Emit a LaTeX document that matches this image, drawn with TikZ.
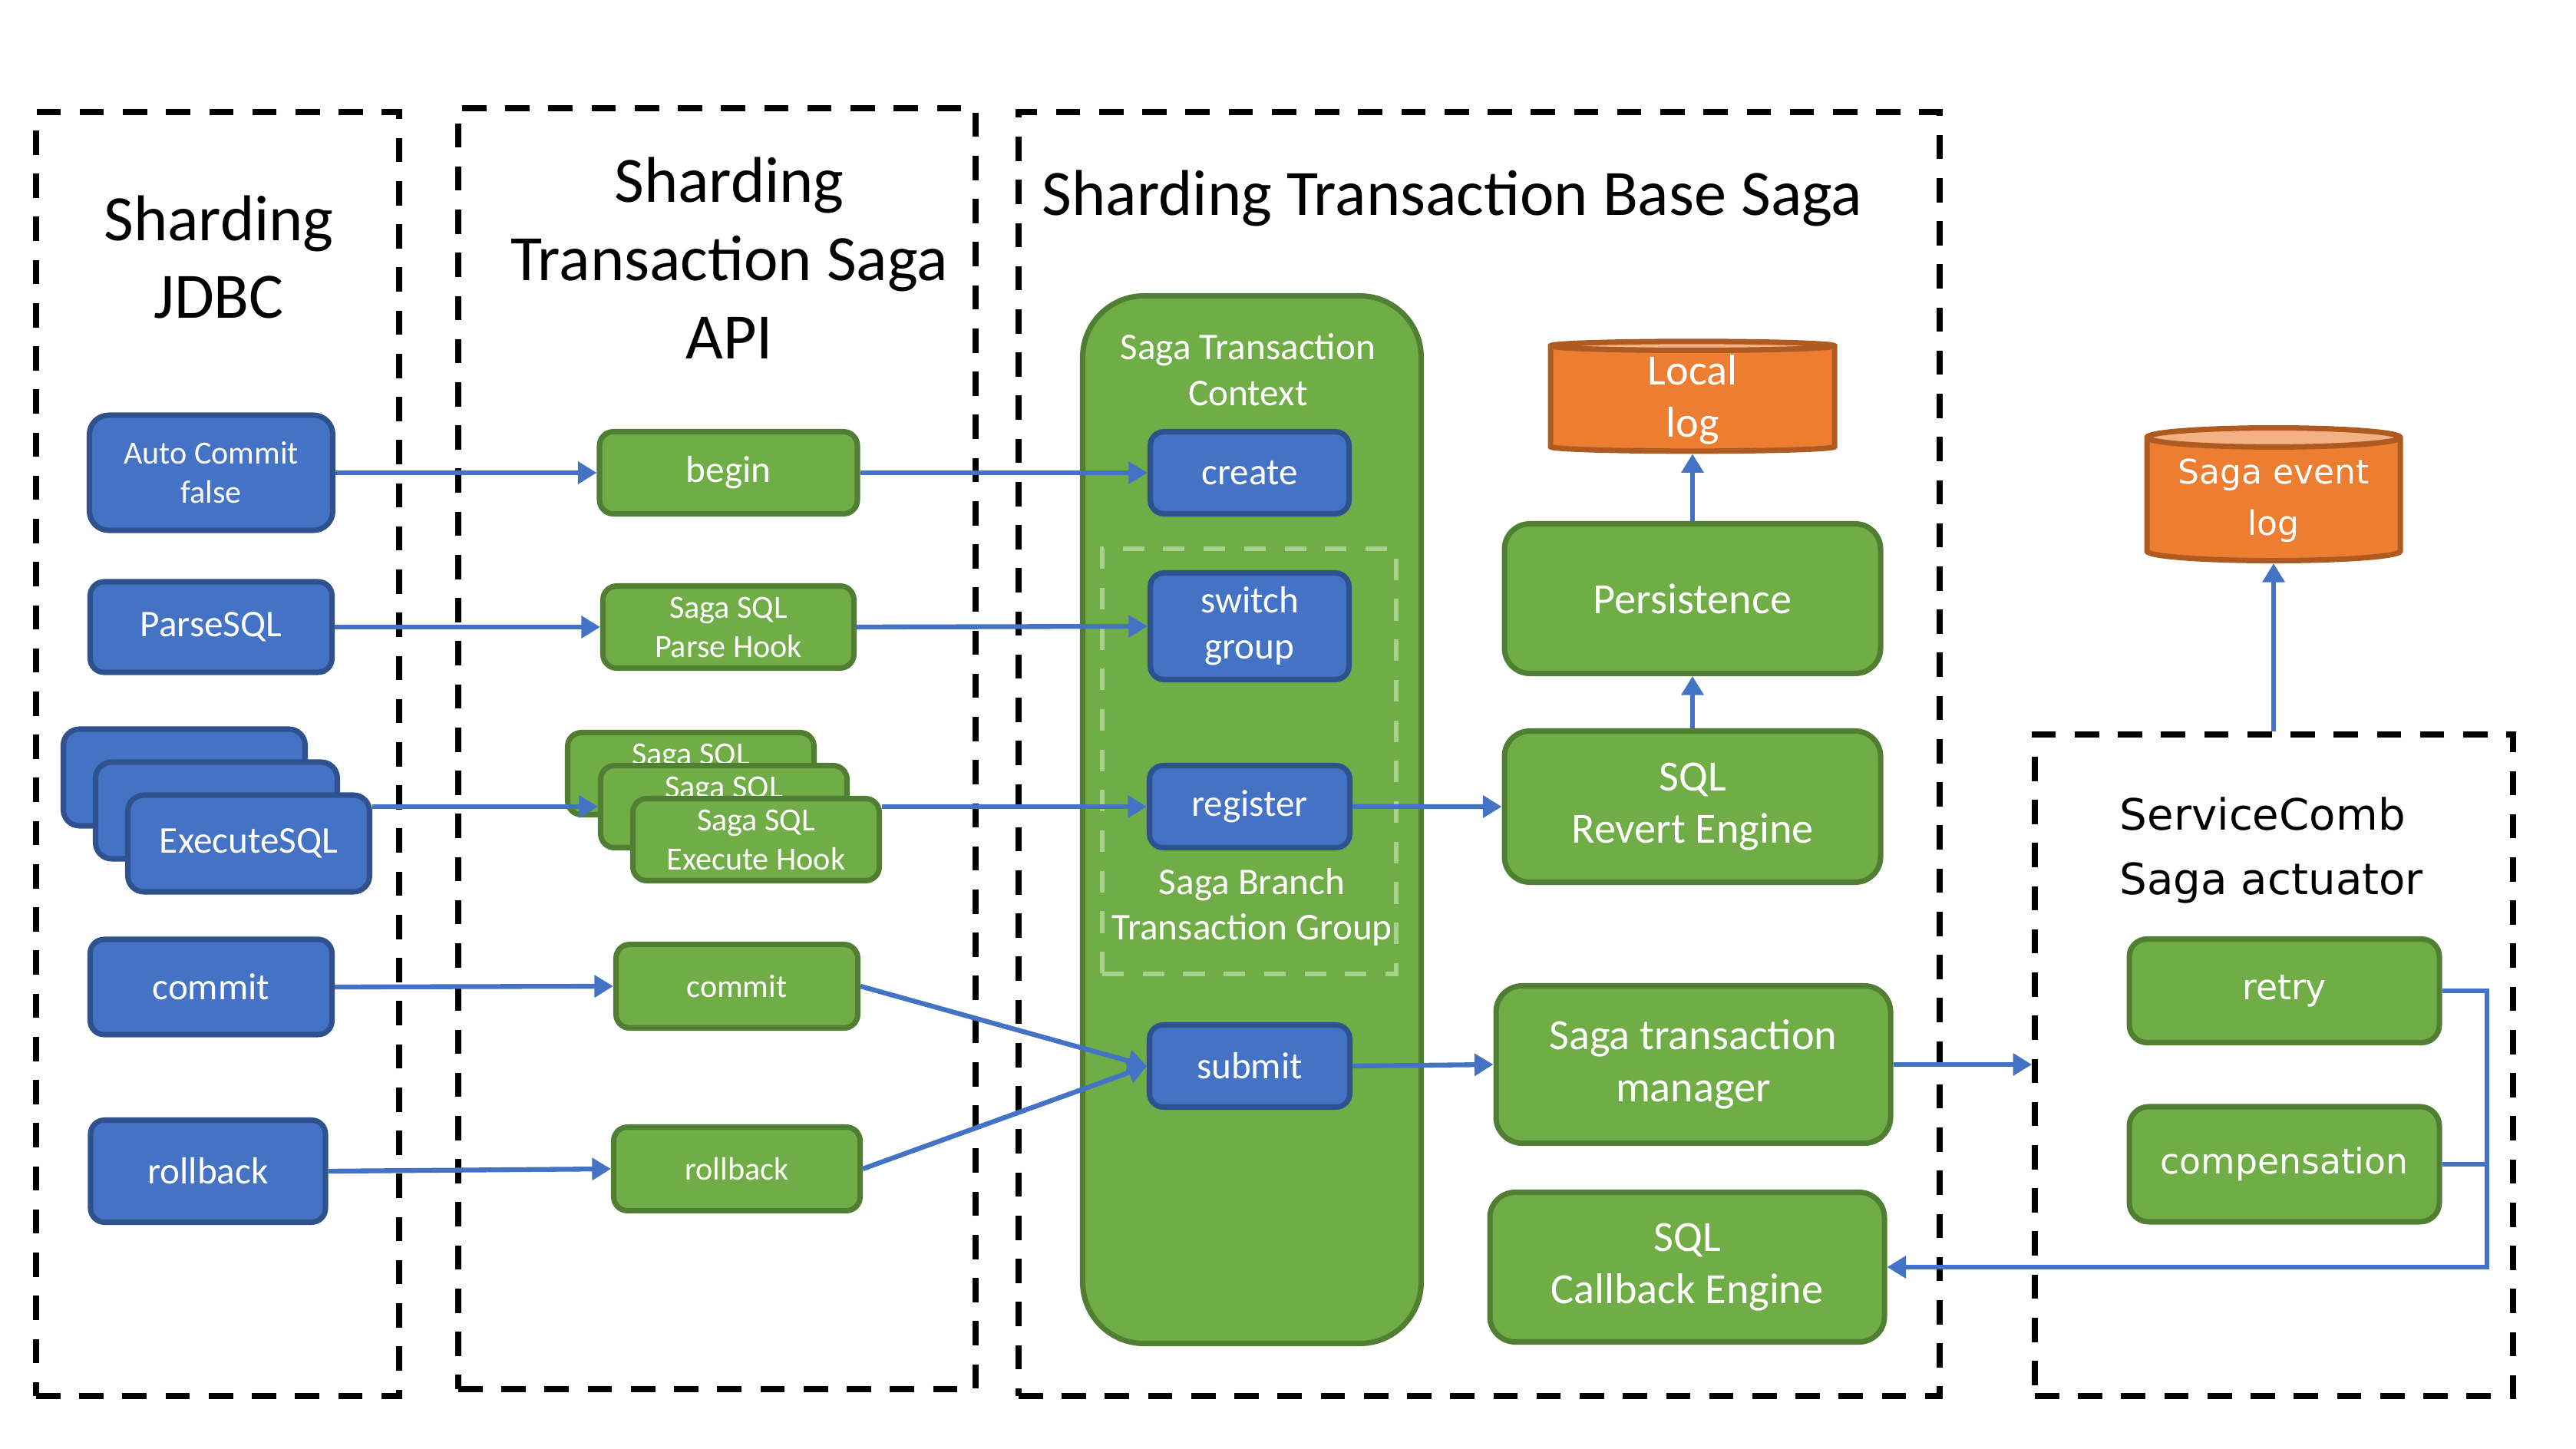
\documentclass[tikz,border=0pt]{standalone}
\usepackage{fontspec}
\setmainfont{Carlito}
\newfontfamily\widefont{DejaVu Sans}
\usepackage{tikz}
\usetikzlibrary{positioning,arrows.meta,shapes.geometric,fit,calc}
\definecolor{nodeblue}{HTML}{4472C4}
\definecolor{blueedge}{HTML}{2F528F}
\definecolor{nodegreen}{HTML}{70AD47}
\definecolor{greenedge}{HTML}{507E32}
\definecolor{logorange}{HTML}{ED7D31}
\definecolor{logtop}{HTML}{F4B183}
\definecolor{logedge}{HTML}{AE5A21}
\definecolor{grouplight}{HTML}{A9D18E}
\newcommand{\sagatitle}{\fontsize{24}{29}\selectfont}
\newcommand{\sagamid}{\fontsize{16}{19.5}\selectfont}
\newcommand{\saganorm}{\fontsize{14}{17}\selectfont}
\newcommand{\sagasmall}{\fontsize{12}{14.5}\selectfont}
\tikzstyle{frame}    = [draw=black, line width=2.2pt, dash pattern=on 9pt off 7pt, inner sep=0pt]
\tikzstyle{heading}  = [align=center, inner sep=0pt, font=\sagatitle]
\tikzstyle{bluebox}  = [rectangle, rounded corners=0.18cm, draw=blueedge, fill=nodeblue,
                        line width=2pt, text=white, align=center, inner sep=1pt, font=\saganorm]
\tikzstyle{greenbox} = [rectangle, rounded corners=0.18cm, draw=greenedge, fill=nodegreen,
                        line width=2pt, text=white, align=center, inner sep=1pt, font=\saganorm]
\tikzstyle{column}   = [rectangle, rounded corners=0.8cm, draw=greenedge, fill=nodegreen, line width=2pt]
\tikzstyle{group}    = [draw=grouplight, line width=1.6pt, dash pattern=on 8pt off 7pt, inner sep=0pt]
\tikzstyle{caption}  = [align=center, inner sep=0pt, text=white, font=\saganorm]
\tikzstyle{logdb}    = [cylinder, shape border rotate=90, aspect=0.1, draw=logedge, line width=2pt,
                        cylinder uses custom fill, cylinder body fill=logorange, cylinder end fill=logtop,
                        text=white, align=center, inner sep=0pt]
\tikzstyle{ptr}      = [draw=nodeblue, line width=1.8pt, -{Triangle[length=7pt,width=8pt]}]
\tikzstyle{wire}     = [draw=nodeblue, line width=1.8pt]

\begin{document}
\begin{tikzpicture}[node distance=2cm, every node/.style={scale=1}]
	\useasboundingbox (0,0) rectangle (33.56,-18.88);

	\node[frame, fit={(0.47,-1.46) (5.20,-18.19)}] (jdbc) {};
	\node[frame, fit={(5.97,-1.41) (12.71,-18.10)}] (api) {};
	\node[frame, fit={(13.27,-1.46) (25.27,-18.19)}] (base) {};
	\node[frame, fit={(26.51,-9.57) (32.74,-18.19)}] (actuator) {};

	\node[heading] (jdbctitle) at (2.85,-3.35) {Sharding\\JDBC};
	\node[heading] (apititle) at (9.50,-3.36) {Sharding\\Transaction Saga\\API};
	\node[heading, anchor=west] (basetitle) at (13.57,-2.58) {Sharding Transaction Base Saga};
	\node[heading, anchor=west, align=left, font={\widefont\fontsize{16}{24}\selectfont}] (acttitle) at (27.61,-11.08) {ServiceComb\\Saga actuator};

	\node[bluebox, font=\sagasmall, minimum width=3.17cm, minimum height=1.50cm, rounded corners=0.25cm] (autocommit) at (2.75,-6.16) {Auto Commit\\false};
	\node[bluebox, minimum width=3.15cm, minimum height=1.18cm, below of=autocommit, node distance=2.01cm] (parsesql) {ParseSQL};
	\node[bluebox, minimum width=3.15cm, minimum height=1.26cm, rounded corners=0.21cm] (exec1) at (2.40,-10.13) {};
	\node[bluebox, minimum width=3.15cm, minimum height=1.26cm, rounded corners=0.21cm] (exec2) at ($(exec1)+(0.42,-0.43)$) {};
	\node[bluebox, minimum width=3.15cm, minimum height=1.26cm, rounded corners=0.21cm] (exec3) at ($(exec2)+(0.42,-0.43)$) {ExecuteSQL};
	\node[bluebox, minimum width=3.15cm, minimum height=1.24cm, below of=parsesql, node distance=4.69cm] (commitsql) {commit};
	\node[bluebox, minimum width=3.06cm, minimum height=1.33cm, below of=commitsql, node distance=2.40cm, xshift=-0.04cm] (rollbacksql) {rollback};

	\node[greenbox, minimum width=3.36cm, minimum height=1.07cm] (begin) at (9.49,-6.16) {begin};
	\node[greenbox, font=\sagasmall, minimum width=3.27cm, minimum height=1.07cm, below of=begin, node distance=2.01cm] (parsehook) {Saga SQL\\Parse Hook};
	\node[greenbox, font=\sagasmall, minimum width=3.21cm, minimum height=1.07cm] (hook1) at (9.00,-10.08) {Saga SQL\\Execute Hook};
	\node[greenbox, font=\sagasmall, minimum width=3.21cm, minimum height=1.07cm] (hook2) at ($(hook1)+(0.43,-0.43)$) {Saga SQL\\Execute Hook};
	\node[greenbox, font=\sagasmall, minimum width=3.21cm, minimum height=1.07cm] (hook3) at ($(hook2)+(0.42,-0.43)$) {Saga SQL\\Execute Hook};
	\node[greenbox, font=\sagasmall, minimum width=3.15cm, minimum height=1.09cm] (commitapi) at (9.60,-12.85) {commit};
	\node[greenbox, font=\sagasmall, minimum width=3.21cm, minimum height=1.09cm, below of=commitapi, node distance=2.38cm] (rollbackapi) {rollback};

	\node[column, minimum width=4.41cm, minimum height=13.65cm] (context) at (16.31,-10.68) {};
	\node[group, fit={(14.36,-7.15) (18.19,-12.69)}] (branchgroup) {};
	\node[caption] (contexttitle) at (16.26,-4.82) {Saga Transaction\\Context};
	\node[bluebox, minimum width=2.59cm, minimum height=1.07cm] (create) at (16.28,-6.16) {create};
	\node[bluebox, minimum width=2.59cm, minimum height=1.39cm, below of=create, node distance=2.00cm] (switchgroup) {switch\\group};
	\node[bluebox, minimum width=2.61cm, minimum height=1.07cm, below of=switchgroup, node distance=2.35cm] (register) {register};
	\node[caption] (grouptitle) at (16.31,-11.82) {Saga Branch\\Transaction Group};
	\node[bluebox, minimum width=2.61cm, minimum height=1.07cm, below of=register, node distance=3.38cm] (submit) {submit};

	\node[logdb, font=\sagamid, minimum width=3.70cm, minimum height=1.43cm] (locallog) at (22.05,-5.21) {Local\\log};
	\node[greenbox, font=\sagamid, minimum width=4.90cm, minimum height=1.95cm, rounded corners=0.33cm] (persistence) at (22.05,-7.80) {Persistence};
	\node[greenbox, font=\sagamid, minimum width=4.90cm, minimum height=1.97cm, rounded corners=0.33cm, below of=persistence, node distance=2.71cm] (revert) {SQL\\Revert Engine};
	\node[greenbox, font=\sagamid, minimum width=5.14cm, minimum height=2.05cm, rounded corners=0.34cm] (manager) at (22.06,-13.87) {Saga transaction\\manager};
	\node[greenbox, font=\sagamid, minimum width=5.14cm, minimum height=1.95cm, rounded corners=0.33cm] (callback) at (21.98,-16.51) {SQL\\Callback Engine};

	\node[logdb, font={\widefont\fontsize{12.5}{19}\selectfont}, minimum width=3.30cm, minimum height=1.73cm] (eventlog) at (29.62,-6.52) {Saga event\\log};
	\node[greenbox, font={\widefont\fontsize{13}{16}\selectfont}, minimum width=4.04cm, minimum height=1.35cm, rounded corners=0.23cm] (retry) at (29.76,-12.91) {retry};
	\node[greenbox, font={\widefont\fontsize{13}{16}\selectfont}, minimum width=4.04cm, minimum height=1.50cm, rounded corners=0.25cm, below of=retry, node distance=2.26cm] (compensation) {compensation};
	\coordinate (turn) at (32.40,-12.91);

	\draw[ptr] (autocommit.east) -- (begin.west);
	\draw[ptr] (begin.east) -- (create.west);
	\draw[ptr] (parsesql.east) -- (parsehook.west);
	\draw[ptr] (parsehook.east) -- (switchgroup.west);
	\draw[ptr] (exec3.east |- hook2.west) -- (hook2.west);
	\draw[ptr] (hook3.east |- register.west) -- (register.west);
	\draw[ptr] (commitsql.east) -- (commitapi.west);
	\draw[ptr] (rollbacksql.east) -- (rollbackapi.west);
	\draw[ptr] (commitapi.east) -- (submit.west);
	\draw[ptr] (rollbackapi.east) -- (submit.west);
	\draw[ptr] (register.east) -- (revert.west);
	\draw[ptr] (revert.north) -- (persistence.south);
	\draw[ptr] (persistence.north) -- (locallog.south);
	\draw[ptr] (submit.east) -- (manager.west);
	\draw[ptr] (manager.east) -- (manager.east -| actuator.west);
	\draw[ptr] (actuator.north -| eventlog.south) -- (eventlog.south);
	\draw[ptr] (retry.east) -- (turn) -- (turn |- callback.east) -- (callback.east);
	\draw[wire] (compensation.east) -- (compensation.east -| turn);
\end{tikzpicture}
\end{document}
